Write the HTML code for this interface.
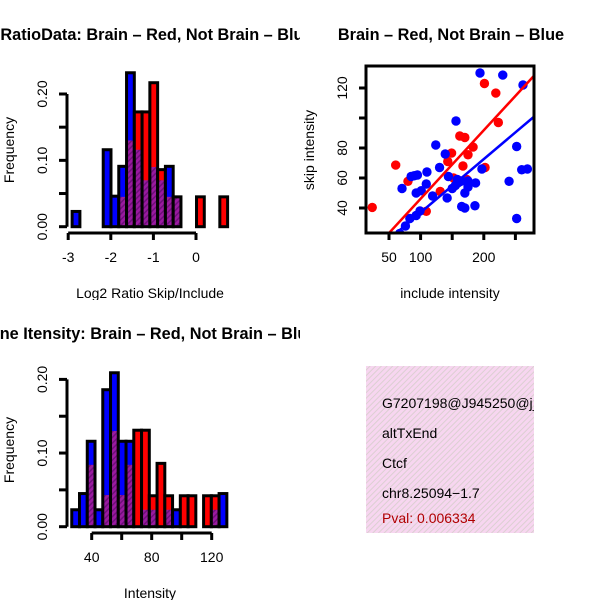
<!DOCTYPE html>
<html><head><meta charset="utf-8">
<style>
html,body{margin:0;padding:0;background:#fff;}
svg{display:block;font-family:"Liberation Sans",Arial,sans-serif;}
</style></head>
<body>
<svg id="fig" width="600" height="600" viewBox="0 0 600 600" xmlns="http://www.w3.org/2000/svg">
<defs>
<clipPath id="c1"><rect x="0" y="0" width="300" height="300"/></clipPath>
<clipPath id="c3"><rect x="0" y="300" width="300" height="300"/></clipPath>
<clipPath id="c4"><rect x="366" y="366" width="168" height="167"/></clipPath>
<clipPath id="sc"><rect x="366" y="66" width="168" height="167"/></clipPath>
<pattern id="hatch" width="4" height="4" patternUnits="userSpaceOnUse" patternTransform="rotate(45)">
<rect width="4" height="4" fill="#9a1aa0"/><rect width="1.5" height="4" fill="#6e0f7a"/></pattern>
<pattern id="pinkhatch" width="4" height="4" patternUnits="userSpaceOnUse" patternTransform="rotate(45)">
<rect width="4" height="4" fill="#f7d6f0"/><rect width="1" height="4" fill="#dccfd2"/></pattern>
</defs>
<g id="p1" clip-path="url(#c1)"></g>
<g id="p2"></g>
<g id="p3" clip-path="url(#c3)"></g>
<g id="p4" clip-path="url(#c4)">
<rect x="366" y="366" width="168" height="167" fill="url(#pinkhatch)"/>
<text x="382" y="408" font-size="14">G7207198@J945250@j_</text>
<text x="382" y="438" font-size="14">altTxEnd</text>
<text x="382" y="468" font-size="14">Ctcf</text>
<text x="382" y="498" font-size="14">chr8.25094−1.7</text>
<text x="382" y="523" font-size="14" fill="#b00000">Pval: 0.006334</text>
</g>
</svg>
<script>
const NS="http://www.w3.org/2000/svg";
function mk(parent,tag,attrs,text){const e=document.createElementNS(NS,tag);for(const k in attrs)e.setAttribute(k,attrs[k]);if(text!==undefined)e.textContent=text;parent.appendChild(e);return e;}

// ---------- Histogram 1 data ----------
const h1BinStart=-2.908, h1BinWidth=0.1825;
const h1Blue=[0.023,0,0,0,0.116,0.046,0.091,0.232,0.116,0.07,0.09,0.07,0.091,0.045,0,0,0,0,0,0];
const h1Red=[0,0,0,0,0,0,0.045,0.13,0.173,0.173,0.217,0.086,0.045,0.045,0,0,0.045,0,0,0.045];
const h1XTicks=[-3,-2,-1,0];
const h1YTicks=[0,0.05,0.1,0.15,0.2];
const h1YLabels=["0.00","","0.10","","0.20"];

// ---------- Histogram 2 data ----------
const h2BinStart=26.7, h2BinWidth=5.17;
const h2Blue=[0.023,0.045,0.116,0.023,0.186,0.209,0.116,0.116,0,0.023,0.023,0,0.023,0.023,0,0,0,0,0.023,0.045];
const h2Red=[0,0,0.084,0,0.043,0.13,0.043,0.084,0.131,0.131,0.042,0.086,0.042,0,0.042,0.042,0,0.042,0.042,0];
const h2XTicks=[40,60,80,100,120];
const h2XLabels=["40","","80","","120"];
const h2YTicks=[0,0.05,0.1,0.15,0.2];
const h2YLabels=["0.00","","0.10","","0.20"];

// ---------- Scatter data ----------
const redX=[23.5,60.6,80,109,131,143,149,162,170,167,175,183,201,219,223,202,173,152];
const redY=[40.4,68.6,57.8,37.8,51,71,76.6,88,87,68,75.5,80.6,123,116.6,97,67,59,60];
const blueX=[194,230,262,156,124,139,252,110,130,197,260,269,240,252,85,90,95,70.6,109,93,101,119,142,144,155,160,165,175,170,175,187,165,170,186,99,93,83,76,67,150,158];
const blueY=[130,128.6,122,98,82,76,81,64,67,66,65.5,66,57.8,33,61,61.5,62,53,56,50,51.5,48,46.7,61,55,57,58,58,50,54,56.7,41,40,41.5,38,35,33,28,23,53,59];
const redLine=[0.457,0.45];
const blueLine=[0.356,1.4];
const scXTicks=[50,100,150,200,250];
const scXLabels=["50","100","","200",""];
const scYTicks=[40,60,80,100,120];
const scYLabels=["40","60","80","","120"];

function hist(g,cfg){
  const {x,y,start,w,blue,red,xTicks,xLabels,yTicks,yLabels,axisY,axisX,xLab,title,titleX,titleY,ylabY}=cfg;
  for(let i=0;i<blue.length;i++){
    const b=blue[i],r=red[i];const mx=Math.max(b,r),mn=Math.min(b,r);
    if(mx<=0)continue;
    const x0=x(start+i*w),x1=x(start+(i+1)*w);
    const bar=mk(g,'rect',{x:x0,y:y(mx),width:x1-x0,height:y(0)-y(mx),fill:b>=r?'#0000ff':'#ff0000'});
    
    
    if(mn>0){const p=mk(g,'rect',{x:x0,y:y(mn),width:x1-x0,height:y(0)-y(mn),fill:'url(#hatch)'});
      
      }
    const o=mk(g,'rect',{x:x0,y:y(mx),width:x1-x0,height:y(0)-y(mx),fill:'none',stroke:'#000','stroke-width':3});
    
    
  }
  const ax=mk(g,'line',{x1:x(xTicks[0]),x2:x(xTicks[xTicks.length-1]),y1:axisY,y2:axisY,stroke:'#000','stroke-width':3});
  
  
  xTicks.forEach((t,i)=>{mk(g,'line',{x1:x(t),x2:x(t),y1:axisY,y2:axisY+7,stroke:'#000','stroke-width':3});
    const tl=mk(g,'text',{x:x(t),y:axisY+29,'font-size':14,'text-anchor':'middle'},xLabels[i]);
    
    });
  const ay=mk(g,'line',{x1:axisX,x2:axisX,y1:y(yTicks[0]),y2:y(yTicks[yTicks.length-1]),stroke:'#000','stroke-width':3});
  
  
  yTicks.forEach((t,i)=>{mk(g,'line',{x1:axisX,x2:axisX-8,y1:y(t),y2:y(t),stroke:'#000','stroke-width':3});
    if(yLabels[i]){const tl=mk(g,'text',{x:0,y:0,'font-size':14,'text-anchor':'middle',transform:`translate(${axisX-20},${y(t)}) rotate(-90)`},yLabels[i]);
    
    }});
  const xl=mk(g,'text',{x:150,y:axisY+65,'font-size':14,'text-anchor':'middle'},xLab);
  
  
  const yl=mk(g,'text',{x:0,y:0,'font-size':14,'text-anchor':'middle',transform:`translate(14,${ylabY}) rotate(-90)`},'Frequency');
  
  
  const tt=mk(g,'text',{x:titleX,y:titleY,'font-size':16.3,'font-weight':'bold','text-anchor':'start'},title);
  
  
}

// Histogram 1
(function(){
  const g=document.getElementById('p1');
  const x=v=>196+(v-0)*42.6, y=v=>226.7-v/0.2*132.7;
  hist(g,{x,y,start:h1BinStart,w:h1BinWidth,blue:h1Blue,red:h1Red,xTicks:h1XTicks,xLabels:h1XTicks.map(String),
    yTicks:h1YTicks,yLabels:h1YLabels,axisY:233,axisX:67,xLab:'Log2 Ratio Skip/Include',
    title:'Log2 RatioData: Brain – Red, Not Brain – Blue',titleX:-43,titleY:40,ylabY:150});
})();
// Histogram 2
(function(){
  const g=document.getElementById('p3');
  const x=v=>91.7+(v-40)*1.5, y=v=>526.7-v/0.2*147.3;
  hist(g,{x,y,start:h2BinStart,w:h2BinWidth,blue:h2Blue,red:h2Red,xTicks:h2XTicks,xLabels:h2XLabels,
    yTicks:h2YTicks,yLabels:h2YLabels,axisY:533,axisX:67,xLab:'Intensity',
    title:'Gene Itensity: Brain – Red, Not Brain – Blue',titleX:-22,titleY:339,ylabY:450});
})();
// Scatter
(function(){
  const g=document.getElementById('p2');
  const x=v=>389+(v-50)*31.6/50, y=v=>208-(v-40)*1.5;
  const inner=mk(g,'g',{'clip-path':'url(#sc)'});
  
  
  redX.forEach((v,i)=>{const c=mk(inner,'circle',{cx:x(v),cy:y(redY[i]),r:4.7,fill:'#ff0000'});
    
    });
  blueX.forEach((v,i)=>{const c=mk(inner,'circle',{cx:x(v),cy:y(blueY[i]),r:4.7,fill:'#0000ff'});
    
    });
  const xa=0,xb=300;
  const rl=mk(inner,'line',{x1:x(xa),y1:y(redLine[0]*xa+redLine[1]),x2:x(xb),y2:y(redLine[0]*xb+redLine[1]),stroke:'#ff0000','stroke-width':2.5});
  
  
  const bl=mk(inner,'line',{x1:x(xa),y1:y(blueLine[0]*xa+blueLine[1]),x2:x(xb),y2:y(blueLine[0]*xb+blueLine[1]),stroke:'#0000ff','stroke-width':2.5});
  
  
  const box=mk(g,'rect',{x:366,y:66,width:168,height:167,fill:'none',stroke:'#000','stroke-width':3});
  
  
  scXTicks.forEach((t,i)=>{mk(g,'line',{x1:x(t),x2:x(t),y1:233,y2:240,stroke:'#000','stroke-width':3});
    if(scXLabels[i]){const tl=mk(g,'text',{x:x(t),y:262,'font-size':14,'text-anchor':'middle'},scXLabels[i]);
    
    }});
  scYTicks.forEach((t,i)=>{mk(g,'line',{x1:366,x2:359,y1:y(t),y2:y(t),stroke:'#000','stroke-width':3});
    if(scYLabels[i]){const tl=mk(g,'text',{x:0,y:0,'font-size':14,'text-anchor':'middle',transform:`translate(347,${y(t)}) rotate(-90)`},scYLabels[i]);
    
    }});
  const xl=mk(g,'text',{x:450,y:298,'font-size':14,'text-anchor':'middle'},'include intensity');
  
  
  const yl=mk(g,'text',{x:0,y:0,'font-size':14,'text-anchor':'middle',transform:'translate(314,150) rotate(-90)'},'skip intensity');
  
  
  const tt=mk(g,'text',{x:451,y:40,'font-size':16.3,'font-weight':'bold','text-anchor':'middle'},'Brain – Red, Not Brain – Blue');
  
  
})();
</script>
</body></html>
